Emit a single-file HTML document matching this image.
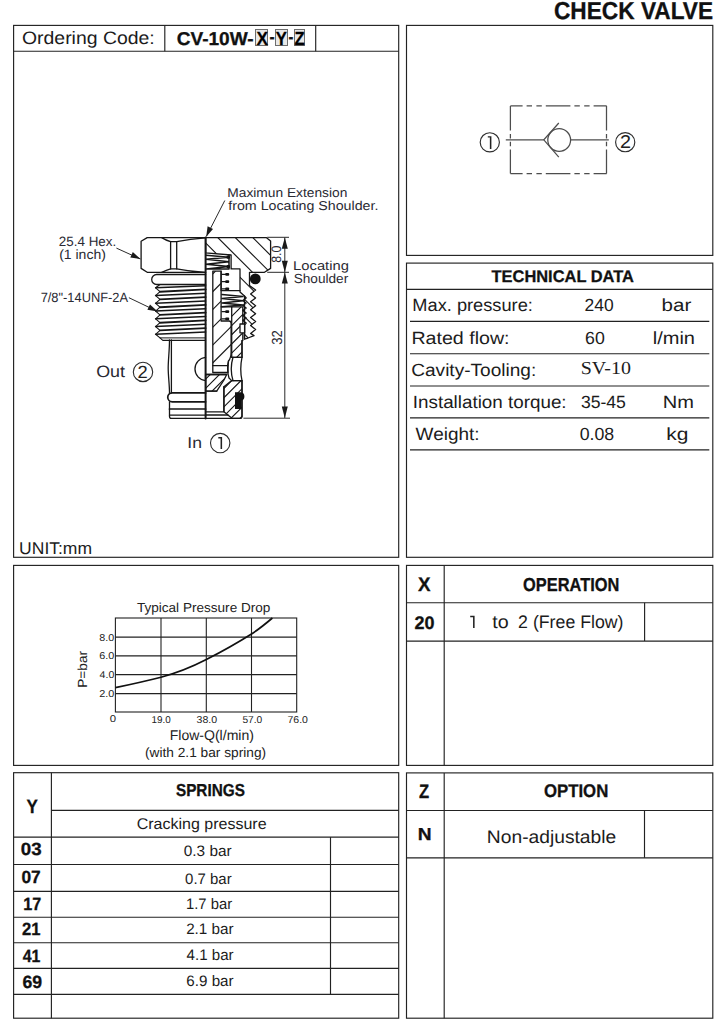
<!DOCTYPE html>
<html>
<head>
<meta charset="utf-8">
<title>CHECK VALVE CV-10W</title>
<style>
html,body{margin:0;padding:0;background:#fff;}
body{width:719px;height:1024px;position:relative;overflow:hidden;font-family:"Liberation Sans",sans-serif;}
.t{position:absolute;white-space:pre;transform-origin:0 0;display:block;}
svg{position:absolute;left:0;top:0;}
.cb{position:absolute;background:#e9e9e9;border:1.4px solid #6e6e6e;box-sizing:border-box;}
.f line,.f rect{stroke:#222;stroke-width:1.15;fill:none;}
</style>
</head>
<body>
<svg class="f" width="719" height="1024" viewBox="0 0 719 1024">
<!-- outer boxes -->
<rect x="13.6" y="25.4" width="385.1" height="531.9"/>
<rect x="13.6" y="565.4" width="385.1" height="200"/>
<rect x="13.6" y="772.7" width="385.1" height="245.5"/>
<rect x="406.5" y="25.4" width="306.3" height="230"/>
<rect x="406.5" y="263.1" width="306.3" height="294.2"/>
<rect x="406.5" y="565.4" width="306.3" height="200"/>
<rect x="406.5" y="772.9" width="306.3" height="245.3"/>
<!-- ordering code row -->
<line x1="13.6" y1="51.2" x2="398.7" y2="51.2"/>
<line x1="164.8" y1="25.4" x2="164.8" y2="51.2"/>
<line x1="315.7" y1="25.4" x2="315.7" y2="51.2"/>
<!-- technical data -->
<line x1="406.5" y1="289.3" x2="712.8" y2="289.3"/>
<line x1="410" y1="321.4" x2="709.3" y2="321.4"/>
<line x1="410" y1="353.7" x2="709.3" y2="353.7"/>
<line x1="410" y1="386.0" x2="709.3" y2="386.0"/>
<line x1="410" y1="417.8" x2="709.3" y2="417.8"/>
<line x1="410" y1="449.8" x2="709.3" y2="449.8"/>
<!-- X table -->
<line x1="444.2" y1="565.4" x2="444.2" y2="765.4"/>
<line x1="406.5" y1="602.7" x2="712.8" y2="602.7"/>
<line x1="406.5" y1="641.1" x2="712.8" y2="641.1"/>
<line x1="644.6" y1="602.7" x2="644.6" y2="641.1"/>
<!-- Z table -->
<line x1="444.2" y1="772.9" x2="444.2" y2="1018.2"/>
<line x1="406.5" y1="810.5" x2="712.8" y2="810.5"/>
<line x1="406.5" y1="857.8" x2="712.8" y2="857.8"/>
<line x1="644.5" y1="810.5" x2="644.5" y2="857.8"/>
<!-- springs table -->
<line x1="51.4" y1="772.7" x2="51.4" y2="1018.2"/>
<line x1="51.4" y1="810.3" x2="398.7" y2="810.3"/>
<line x1="13.6" y1="837.1" x2="398.7" y2="837.1"/>
<line x1="13.6" y1="864.5" x2="398.7" y2="864.5"/>
<line x1="13.6" y1="891.4" x2="398.7" y2="891.4"/>
<line x1="13.6" y1="917.2" x2="398.7" y2="917.2"/>
<line x1="13.6" y1="942.7" x2="398.7" y2="942.7"/>
<line x1="13.6" y1="968.4" x2="398.7" y2="968.4"/>
<line x1="13.6" y1="994.3" x2="398.7" y2="994.3"/>
<line x1="330.5" y1="837.1" x2="330.5" y2="994.3"/>
</svg>

<!-- code letter boxes -->
<div class="cb" style="left:255.2px;top:29.3px;width:13.3px;height:16.3px"></div>
<div class="cb" style="left:275.2px;top:29.3px;width:12.4px;height:16.3px"></div>
<div class="cb" style="left:294.1px;top:29.3px;width:11px;height:16.3px"></div>

<svg width="719" height="1024" viewBox="0 0 719 1024" style="pointer-events:none">
<g fill="none" stroke="#4d4d4d" stroke-width="1.25">
<!-- envelope: phantom (long-short-short) line -->
<path d="M510.4 105.9 H606.7 M510.4 173.5 H606.7" stroke-dasharray="24.6 4 5.4 4.4 5.4 4" stroke-dashoffset="12.4"/>
<path d="M510.4 105.9 V173.5 M606.5 105.9 V173.5" stroke-dasharray="24.5 3.6 4.6 3.2 4.4 3.4 24 10"/>
<!-- flow lines -->
<line x1="505.8" y1="139.8" x2="543.8" y2="139.8"/>
<line x1="570.8" y1="139.8" x2="608.8" y2="139.8"/>
<circle cx="559.2" cy="140" r="11.4"/>
<path d="M558.8 123 L543.8 139.8 L558.8 157.1"/>
<!-- port circles -->
<circle cx="489.8" cy="142.3" r="9.6" stroke="#2e2e2e" stroke-width="1.15"/>
<circle cx="625.2" cy="142.2" r="9.6" stroke="#2e2e2e" stroke-width="1.15"/>
</g>
</svg>

<svg width="719" height="1024" viewBox="0 0 719 1024" style="pointer-events:none">
<g fill="none" stroke="#222" stroke-width="1.1">
<rect x="115.4" y="618" width="181.3" height="94"/>
<line x1="161" y1="618" x2="161" y2="712"/>
<line x1="206.3" y1="618" x2="206.3" y2="712"/>
<line x1="251.5" y1="618" x2="251.5" y2="712"/>
<line x1="115.4" y1="637.1" x2="296.7" y2="637.1"/>
<line x1="115.4" y1="655.9" x2="296.7" y2="655.9"/>
<line x1="115.4" y1="674.6" x2="296.7" y2="674.6"/>
<line x1="115.4" y1="693.6" x2="296.7" y2="693.6"/>
<path d="M115.4 687.6 C135 683.5 148 680.5 161 677.2 C178 672.8 192 667 206.3 659.6 C224 650.5 238 642.5 251.5 634 C260 628.5 266.5 623 272.4 618" stroke="#111" stroke-width="1.7"/>
</g>
</svg>

<svg width="719" height="1024" viewBox="0 0 719 1024" style="pointer-events:none">
<defs>
<clipPath id="c0"><path d="M205.6 237.6 H266.2 L270.6 241.1 V268.4 L264.5 272.3 H249.5 V285.6 L255.6 290 L250.6 293.9 L255.6 297.9 L250.6 301.8 L255.6 305.8 L250.6 309.7 L255.6 313.7 L250.6 317.6 L255.6 321.6 L250.6 325.5 L255.6 329.5 L250.6 333.4 L254 335.6 L248 338 L244.5 339 V296 L240 292 V268.9 H231.1 V255 L205.6 252.8 Z"/></clipPath>
<clipPath id="c1"><path d="M212.8 271.2 H221.1 V321 H229 Q231.1 321 231.1 323.5 V352 Q231.1 358 228.5 361 L228 365.6 H212.8 Z"/></clipPath>
<clipPath id="c2"><path d="M231.7 306.8 H242.8 V340.6 H242 V357.3 H231.7 Z"/></clipPath>
<clipPath id="c3"><path d="M223.9 386.7 L231.7 380.6 H242 V416.5 Q242 418.4 240 418.4 H232.3 L223.9 411.8 Z"/></clipPath>
<clipPath id="c4"><path d="M205.6 374.5 H226.7 L224 380 L216.7 391.2 H205.6 Z"/></clipPath>
</defs>
<g fill="none" stroke="#161616" stroke-width="1.3" stroke-linejoin="round" stroke-linecap="round">
<!-- hatched solids -->
<path clip-path="url(#c0)" d="M200 447.30 L275 522.30 M200 429.80 L275 504.80 M200 412.30 L275 487.30 M200 394.80 L275 469.80 M200 377.30 L275 452.30 M200 359.80 L275 434.80 M200 342.30 L275 417.30 M200 324.80 L275 399.80 M200 307.30 L275 382.30 M200 289.80 L275 364.80 M200 272.30 L275 347.30 M200 254.80 L275 329.80 M200 237.30 L275 312.30 M200 219.80 L275 294.80 M200 202.30 L275 277.30 M200 184.80 L275 259.80 M200 167.30 L275 242.30 M200 149.80 L275 224.80" stroke-width="1.15" stroke-linecap="butt"/>
<path d="M205.6 237.6 H266.2 L270.6 241.1 V268.4 L264.5 272.3 H249.5 V285.6 L255.6 290 L250.6 293.9 L255.6 297.9 L250.6 301.8 L255.6 305.8 L250.6 309.7 L255.6 313.7 L250.6 317.6 L255.6 321.6 L250.6 325.5 L255.6 329.5 L250.6 333.4 L254 335.6 L248 338 L244.5 339 V296 L240 292 V268.9 H231.1 V255 L205.6 252.8 Z"/>
<path clip-path="url(#c1)" d="M200 197.60 L275 122.60 M200 215.40 L275 140.40 M200 233.20 L275 158.20 M200 251.00 L275 176.00 M200 268.80 L275 193.80 M200 286.60 L275 211.60 M200 304.40 L275 229.40 M200 322.20 L275 247.20 M200 340.00 L275 265.00 M200 357.80 L275 282.80 M200 375.60 L275 300.60 M200 393.40 L275 318.40 M200 411.20 L275 336.20 M200 429.00 L275 354.00 M200 446.80 L275 371.80 M200 464.60 L275 389.60 M200 482.40 L275 407.40 M200 500.20 L275 425.20" stroke-width="1.15" stroke-linecap="butt"/>
<path d="M212.8 271.2 H221.1 V321 H229 Q231.1 321 231.1 323.5 V352 Q231.1 358 228.5 361 L228 365.6 H212.8 Z"/>
<path clip-path="url(#c2)" d="M200 219.20 L275 144.20 M200 228.40 L275 153.40 M200 237.60 L275 162.60 M200 246.80 L275 171.80 M200 256.00 L275 181.00 M200 265.20 L275 190.20 M200 274.40 L275 199.40 M200 283.60 L275 208.60 M200 292.80 L275 217.80 M200 302.00 L275 227.00 M200 311.20 L275 236.20 M200 320.40 L275 245.40 M200 329.60 L275 254.60 M200 338.80 L275 263.80 M200 348.00 L275 273.00 M200 357.20 L275 282.20 M200 366.40 L275 291.40 M200 375.60 L275 300.60 M200 384.80 L275 309.80 M200 394.00 L275 319.00 M200 403.20 L275 328.20 M200 412.40 L275 337.40 M200 421.60 L275 346.60 M200 430.80 L275 355.80 M200 440.00 L275 365.00 M200 449.20 L275 374.20 M200 458.40 L275 383.40 M200 467.60 L275 392.60 M200 476.80 L275 401.80 M200 486.00 L275 411.00 M200 495.20 L275 420.20 M200 504.40 L275 429.40" stroke-width="1.15" stroke-linecap="butt"/>
<path d="M231.7 306.8 H242.8 V340.6 H242 V357.3 H231.7 Z"/>
<path clip-path="url(#c3)" d="M200 219.20 L275 144.20 M200 228.40 L275 153.40 M200 237.60 L275 162.60 M200 246.80 L275 171.80 M200 256.00 L275 181.00 M200 265.20 L275 190.20 M200 274.40 L275 199.40 M200 283.60 L275 208.60 M200 292.80 L275 217.80 M200 302.00 L275 227.00 M200 311.20 L275 236.20 M200 320.40 L275 245.40 M200 329.60 L275 254.60 M200 338.80 L275 263.80 M200 348.00 L275 273.00 M200 357.20 L275 282.20 M200 366.40 L275 291.40 M200 375.60 L275 300.60 M200 384.80 L275 309.80 M200 394.00 L275 319.00 M200 403.20 L275 328.20 M200 412.40 L275 337.40 M200 421.60 L275 346.60 M200 430.80 L275 355.80 M200 440.00 L275 365.00 M200 449.20 L275 374.20 M200 458.40 L275 383.40 M200 467.60 L275 392.60 M200 476.80 L275 401.80 M200 486.00 L275 411.00 M200 495.20 L275 420.20 M200 504.40 L275 429.40" stroke-width="1.15" stroke-linecap="butt"/>
<path d="M223.9 386.7 L231.7 380.6 H242 V416.5 Q242 418.4 240 418.4 H232.3 L223.9 411.8 Z"/>
<path clip-path="url(#c4)" d="M200 219.20 L275 144.20 M200 228.40 L275 153.40 M200 237.60 L275 162.60 M200 246.80 L275 171.80 M200 256.00 L275 181.00 M200 265.20 L275 190.20 M200 274.40 L275 199.40 M200 283.60 L275 208.60 M200 292.80 L275 217.80 M200 302.00 L275 227.00 M200 311.20 L275 236.20 M200 320.40 L275 245.40 M200 329.60 L275 254.60 M200 338.80 L275 263.80 M200 348.00 L275 273.00 M200 357.20 L275 282.20 M200 366.40 L275 291.40 M200 375.60 L275 300.60 M200 384.80 L275 309.80 M200 394.00 L275 319.00 M200 403.20 L275 328.20 M200 412.40 L275 337.40 M200 421.60 L275 346.60 M200 430.80 L275 355.80 M200 440.00 L275 365.00 M200 449.20 L275 374.20 M200 458.40 L275 383.40 M200 467.60 L275 392.60 M200 476.80 L275 401.80 M200 486.00 L275 411.00 M200 495.20 L275 420.20 M200 504.40 L275 429.40" stroke-width="1.15" stroke-linecap="butt"/>
<path d="M205.6 374.5 H226.7 L224 380 L216.7 391.2 H205.6 Z"/>
<!-- hex head left -->
<path d="M205.6 237.6 H147.2 L141.1 241.3 V268.4 L147.2 272.3 H205.6"/>
<path d="M161.7 237.6 Q166.5 240.6 170.6 241.7 H176.7 Q190 239 205.6 237.9"/>
<path d="M161.7 272.3 Q166.5 270 170.6 268.9 H176.7 Q190 271.6 205.6 272.3"/>
<path d="M170.6 241.7 V268.9 M176.7 241.7 V268.9"/>
<!-- washer -->
<path d="M205.6 274.5 H156.7 A5 5 0 0 0 156.7 284.5 H205.6" stroke-width="1.3"/>
<!-- left thread profile -->
<path d="M160 284.5 L155.6 287.8 L160 291.7 L155.6 295.55 L160 299.4 L155.6 303.3 L160 307.2 L155.6 311.05 L160 314.9 L155.6 318.8 L160 322.7 L155.6 326.55 L160 330.4 L155.6 334.3 L160 337.9 L162.8 340.4 H205.6" stroke-width="1.1"/>
<path d="M160 337.9 H205.6" stroke-width="1"/>
<g stroke-width="1.5">
<path d="M155.6 287.8 L205.6 285.8 M155.6 295.55 L205.6 293.3 M155.6 303.3 L205.6 301 M155.6 311.05 L205.6 308.8 M155.6 318.8 L205.6 316.5 M155.6 326.55 L205.6 324.3 M155.6 334.3 L205.6 332"/>
<path d="M160 291.7 L205.6 289.4 M160 299.4 L205.6 297.1 M160 307.2 L205.6 304.9 M160 314.9 L205.6 312.6 M160 322.7 L205.6 320.4 M160 330.4 L205.6 328.1" stroke-width="1.9"/>
</g>
<!-- lower body left -->
<path d="M169.5 340 C169.5 350 168.2 360 168.2 368 C168.2 376 169.5 385 169.5 392.9"/>
<path d="M171.4 340 V392.9"/>
<path d="M205.6 392.9 H172.2 A4.45 4.45 0 0 0 172.2 401.8 H205.6" stroke-width="1.7"/>
<path d="M169.5 401.8 V416.5 Q169.5 418.4 171.5 418.4 H240"/>
<path d="M169.5 409 H205.6" stroke-width="1.7"/>
<path d="M169.5 415.1 H205.6"/>
<path d="M205.6 357.3 A11.7 11.7 0 0 0 205.6 380.6"/>
<!-- center line -->
<path d="M205.6 237.6 V418.4" stroke-width="2"/>
<!-- right side: inner threads, walls -->
<path d="M244.5 296 L246.2 298 L242.8 300.5 L246.2 303 L242.8 305.5 L246.2 308 L242.8 310.5 L246.2 313 L242.8 315.5 L246.2 318 L242.8 320.5 L246.2 323 L244.5 325 V339"/>
<path d="M242 340.6 V357.3 H231.7 M242 380.6 H231.7 M242 380.6 V416.5"/>
<path d="M233 357.3 Q229.5 369 233 380.6 M242 357.3 Q239.5 369 242 380.6"/>
<rect x="240" y="324" width="4.6" height="8.8" fill="#fff"/>
<!-- poppet lower stem etc -->
<path d="M212.8 365.6 V372.5 H228 V365.6"/>
<path d="M228.5 361 Q226.5 369 229 378 L231.7 380.6"/>
<path d="M205.6 391.2 H216.7 M223.9 386.7 V411.8 H205.6 M205.6 374.5 H226.7"/>
<path d="M205.6 415 H228"/>
<!-- spring cavity -->
<path d="M221.1 271.2 V290.6 H240 M221.1 306.8 H231.7"/>
<path d="M206 255.2 L229 257.2 L206 259.2 L229 261.8 L206 264.2 L229 266.6 L206 269 H229 V255" stroke-width="1.5"/>
<path d="M222 294.5 L243 296.5 L222 298.5 L243 300.8 L222 303 L243 305 L222 306.8" stroke-width="1.5"/>
<g fill="#111" stroke="none">
<rect x="225.2" y="273" width="4" height="2.8" rx="1"/><rect x="225.2" y="280.2" width="4" height="2.8" rx="1"/><rect x="225.2" y="287.4" width="4" height="2.8" rx="1"/>
<rect x="225.2" y="310.2" width="4" height="2.8" rx="1"/><rect x="225.2" y="317.4" width="4" height="2.8" rx="1"/>
<rect x="226.5" y="255.5" width="3.5" height="3.2" rx="1"/><rect x="226.5" y="265" width="3.5" height="3.2" rx="1"/>
<circle cx="255.3" cy="278.9" r="5.4"/>
<path d="M235 392.3 H241 Q244.4 392.6 244.4 396.5 Q244.4 400 241.5 400.5 V409 H235 Z"/>
</g>
<path d="M222 274.4 H226 M222 281.6 H226 M222 288.8 H226 M222 311.6 H226 M222 318.8 H226"/>
</g>
<!-- dimensions & leaders -->
<g fill="none" stroke="#2a2a2a" stroke-width="1">
<path d="M267.2 237.3 H289 M267.2 272.3 H289 M243.4 418.2 H290"/>
<path d="M284.8 237.5 V418"/>
<path d="M224.8 200.5 L206.4 236.4"/>
<path d="M116.4 248.1 L140.4 259"/>
<path d="M128.9 297.7 L157.5 311.4"/>
</g>
<g fill="#1a1a1a" stroke="none">
<path d="M284.8 237.5 L287.8 248.8 H281.8 Z"/>
<path d="M284.8 272.2 L287.8 260.8 H281.8 Z"/>
<path d="M284.8 272.4 L287.8 283.6 H281.8 Z"/>
<path d="M284.8 418 L287.8 406.6 H281.8 Z"/>
<path d="M206.2 236.8 L207.6 226.2 L213 229 Z"/>
<path d="M140.6 259.1 L130.3 257.6 L132.8 252.1 Z"/>
<path d="M157.7 311.5 L147.4 309.8 L150 304.4 Z"/>
</g>
<!-- port circles -->
<g fill="none" stroke="#2a2a2a" stroke-width="1.1">
<circle cx="143" cy="371.9" r="9.7"/>
<circle cx="220.2" cy="443.1" r="9.7"/>
</g>
</svg>

<svg class="tx" width="719" height="1024" viewBox="0 0 719 1024" text-rendering="geometricPrecision" font-family="Liberation Sans, sans-serif">
<text transform="translate(553.99 19.40) scale(0.9257 1)" font-size="24.49" font-weight="700" stroke="#111" stroke-width="0.3" fill="#111">CHECK VALVE</text>
<text transform="translate(22.03 44.00) scale(1.0807 1)" font-size="17.97" fill="#1c1c1c">Ordering Code:</text>
<text transform="translate(176.74 44.60) scale(1.0282 1)" font-size="18.55" font-weight="700" stroke="#111" stroke-width="0.3" fill="#111">CV-10W-</text>
<text transform="translate(256.61 44.80) scale(0.9087 1)" font-size="18.99" font-weight="700" stroke="#111" stroke-width="0.3" fill="#000">X</text>
<text transform="translate(269.46 43.40) scale(0.8293 1)" font-size="18.55" font-weight="700" stroke="#111" stroke-width="0.3" fill="#111">-</text>
<text transform="translate(275.75 44.80) scale(0.8806 1)" font-size="18.99" font-weight="700" stroke="#111" stroke-width="0.3" fill="#000">Y</text>
<text transform="translate(288.49 43.40) scale(0.7879 1)" font-size="18.55" font-weight="700" stroke="#111" stroke-width="0.3" fill="#111">-</text>
<text transform="translate(294.58 44.80) scale(0.8747 1)" font-size="18.99" font-weight="700" stroke="#111" stroke-width="0.3" fill="#000">Z</text>
<text transform="translate(19.09 553.70) scale(1.0337 1)" font-size="16.96" fill="#1c1c1c">UNIT:mm</text>
<text transform="translate(491.54 281.80) scale(0.9776 1)" font-size="16.81" font-weight="700" stroke="#111" stroke-width="0.3" fill="#111">TECHNICAL DATA</text>
<text transform="translate(412.34 311.40) scale(1.0310 1)" font-size="17.68" fill="#1c1c1c">Max. pressure:</text>
<text transform="translate(411.43 343.70) scale(1.1102 1)" font-size="17.68" fill="#1c1c1c">Rated flow:</text>
<text transform="translate(411.25 375.90) scale(1.0782 1)" font-size="17.68" fill="#1c1c1c">Cavity-Tooling:</text>
<text transform="translate(412.81 408.20) scale(1.0648 1)" font-size="17.68" fill="#1c1c1c">Installation torque:</text>
<text transform="translate(415.60 440.20) scale(1.0729 1)" font-size="17.68" fill="#1c1c1c">Weight:</text>
<text transform="translate(584.53 311.40) scale(0.9865 1)" font-size="17.68" fill="#1c1c1c">240</text>
<text transform="translate(661.57 311.40) scale(1.1622 1)" font-size="17.68" fill="#1c1c1c">bar</text>
<text transform="translate(585.11 343.70) scale(1.0031 1)" font-size="17.68" fill="#1c1c1c">60</text>
<text transform="translate(652.70 343.70) scale(1.1339 1)" font-size="17.68" fill="#1c1c1c">l/min</text>
<text transform="translate(580.70 374.00) scale(1.0896 1)" font-size="18.32" font-family="Liberation Serif, serif" fill="#1c1c1c">SV-10</text>
<text transform="translate(580.88 408.20) scale(0.9960 1)" font-size="17.68" fill="#1c1c1c">35-45</text>
<text transform="translate(662.80 408.20) scale(1.1334 1)" font-size="17.68" fill="#1c1c1c">Nm</text>
<text transform="translate(579.68 440.20) scale(1.0040 1)" font-size="17.68" fill="#1c1c1c">0.08</text>
<text transform="translate(666.34 440.20) scale(1.1859 1)" font-size="17.68" fill="#1c1c1c">kg</text>
<text transform="translate(417.91 590.50) scale(0.9527 1)" font-size="19.71" font-weight="700" stroke="#111" stroke-width="0.3" fill="#111">X</text>
<text transform="translate(523.04 591.40) scale(0.8712 1)" font-size="18.84" font-weight="700" stroke="#111" stroke-width="0.3" fill="#111">OPERATION</text>
<text transform="translate(414.46 628.80) scale(0.9920 1)" font-size="18.12" font-weight="700" stroke="#111" stroke-width="0.3" fill="#111">20</text>
<text transform="translate(492.30 628.10) scale(1.0858 1)" font-size="18.12" fill="#1c1c1c">to</text>
<text transform="translate(518.11 628.10) scale(0.9787 1)" font-size="18.12" fill="#1c1c1c">2 (Free Flow)</text>
<text transform="translate(419.08 797.70) scale(0.8488 1)" font-size="19.57" font-weight="700" stroke="#111" stroke-width="0.3" fill="#111">Z</text>
<text transform="translate(543.93 797.30) scale(0.9200 1)" font-size="18.26" font-weight="700" stroke="#111" stroke-width="0.3" fill="#111">OPTION</text>
<text transform="translate(417.76 839.90) scale(1.1013 1)" font-size="17.39" font-weight="700" stroke="#111" stroke-width="0.3" fill="#111">N</text>
<text transform="translate(486.86 843.10) scale(1.0621 1)" font-size="18.12" fill="#1c1c1c">Non-adjustable</text>
<text transform="translate(26.44 812.60) scale(0.8770 1)" font-size="19.42" font-weight="700" stroke="#111" stroke-width="0.3" fill="#111">Y</text>
<text transform="translate(175.92 795.80) scale(0.8821 1)" font-size="17.39" font-weight="700" stroke="#111" stroke-width="0.3" fill="#111">SPRINGS</text>
<text transform="translate(136.70 828.80) scale(1.0328 1)" font-size="15.51" fill="#1c1c1c">Cracking pressure</text>
<text transform="translate(20.74 854.80) scale(1.0593 1)" font-size="17.68" font-weight="700" stroke="#111" stroke-width="0.3" fill="#111">03</text>
<text transform="translate(183.76 855.60) scale(1.0097 1)" font-size="15.22" fill="#1c1c1c">0.3 bar</text>
<text transform="translate(21.39 882.70) scale(0.9825 1)" font-size="17.68" font-weight="700" stroke="#111" stroke-width="0.3" fill="#111">07</text>
<text transform="translate(185.08 883.90) scale(0.9819 1)" font-size="15.22" fill="#1c1c1c">0.7 bar</text>
<text transform="translate(23.23 909.90) scale(0.9173 1)" font-size="17.68" font-weight="700" stroke="#111" stroke-width="0.3" fill="#111">17</text>
<text transform="translate(185.99 908.80) scale(0.9731 1)" font-size="15.22" fill="#1c1c1c">1.7 bar</text>
<text transform="translate(22.00 934.60) scale(0.9371 1)" font-size="17.68" font-weight="700" stroke="#111" stroke-width="0.3" fill="#111">21</text>
<text transform="translate(186.14 933.80) scale(1.0018 1)" font-size="15.22" fill="#1c1c1c">2.1 bar</text>
<text transform="translate(22.76 961.60) scale(0.8976 1)" font-size="17.68" font-weight="700" stroke="#111" stroke-width="0.3" fill="#111">41</text>
<text transform="translate(186.60 960.10) scale(0.9920 1)" font-size="15.22" fill="#1c1c1c">4.1 bar</text>
<text transform="translate(22.38 987.80) scale(0.9914 1)" font-size="17.83" font-weight="700" stroke="#111" stroke-width="0.3" fill="#111">69</text>
<text transform="translate(186.34 985.90) scale(0.9975 1)" font-size="15.22" fill="#1c1c1c">6.9 bar</text>
<text transform="translate(136.93 611.60) scale(1.0407 1)" font-size="13.04" fill="#222">Typical Pressure Drop</text>
<text transform="translate(99.37 640.50) scale(1.0731 1)" font-size="10.00" fill="#222">8.0</text>
<text transform="translate(99.26 659.40) scale(1.0813 1)" font-size="10.00" fill="#222">6.0</text>
<text transform="translate(99.59 678.10) scale(1.0570 1)" font-size="10.00" fill="#222">4.0</text>
<text transform="translate(99.26 697.10) scale(1.0813 1)" font-size="10.00" fill="#222">2.0</text>
<text transform="translate(109.70 722.20) scale(1.1340 1)" font-size="10.00" fill="#222">0</text>
<text transform="translate(151.56 723.20) scale(0.9863 1)" font-size="10.00" fill="#222">19.0</text>
<text transform="translate(196.53 723.20) scale(1.0559 1)" font-size="10.00" fill="#222">38.0</text>
<text transform="translate(242.39 723.20) scale(1.0213 1)" font-size="10.00" fill="#222">57.0</text>
<text transform="translate(287.48 723.20) scale(1.0483 1)" font-size="10.00" fill="#222">76.0</text>
<text transform="translate(169.68 739.50) scale(1.0000 1)" font-size="14.06" fill="#222">Flow-Q(l/min)</text>
<text transform="translate(144.98 757.20) scale(1.0288 1)" font-size="13.33" fill="#222">(with 2.1 bar spring)</text>
<text transform="translate(227.30 197.30) scale(1.0674 1)" font-size="12.90" fill="#2a2a33">Maximun Extension</text>
<text transform="translate(228.26 209.80) scale(1.1024 1)" font-size="12.90" fill="#2a2a33">from Locating Shoulder.</text>
<text transform="translate(58.83 246.40) scale(0.9958 1)" font-size="13.48" fill="#2a2a33">25.4 Hex.</text>
<text transform="translate(59.16 259.40) scale(1.0403 1)" font-size="13.48" fill="#2a2a33">(1 inch)</text>
<text transform="translate(40.66 301.90) scale(0.9638 1)" font-size="13.33" fill="#2a2a33">7/8&quot;-14UNF-2A</text>
<text transform="translate(293.12 269.60) scale(1.1439 1)" font-size="12.90" fill="#2a2a33">Locating</text>
<text transform="translate(293.69 283.00) scale(1.0322 1)" font-size="13.19" fill="#2a2a33">Shoulder</text>
<text transform="translate(96.19 376.80) scale(1.0932 1)" font-size="16.38" fill="#2a2a33">Out</text>
<text transform="translate(187.32 448.40) scale(1.1228 1)" font-size="15.65" fill="#2a2a33">In</text>
<text transform="translate(619.91 148.00) scale(1.0664 1)" font-size="18.55" fill="#222">2</text>
<text transform="translate(137.39 377.80) scale(1.0328 1)" font-size="17.68" fill="#222">2</text>
<text transform="translate(87.40 686.70) rotate(-90) scale(1.0369 1) translate(-1.06 0)" font-size="13.19" fill="#222">P=bar</text>
<text transform="translate(281.40 262.30) rotate(-90) scale(0.9106 1) translate(-0.54 0)" font-size="13.62" fill="#2a2a33">8.0</text>
<text transform="translate(282.10 344.40) rotate(-90) scale(0.8944 1) translate(-0.51 0)" font-size="14.64" fill="#2a2a33">32</text>
</svg>
<svg width="719" height="1024" viewBox="0 0 719 1024"><g fill="#222"><path d="M487.8 136.2 H491.4 V149.0 H489.85 V137.55 H487.8 Z"/><path d="M218.3 437.1 H222.1 V448.9 H220.55 V438.45 H218.3 Z"/><path d="M470.2 615.8 H474.6 V628.1 H473.05 V617.15 H470.2 Z"/></g></svg>
</body>
</html>
